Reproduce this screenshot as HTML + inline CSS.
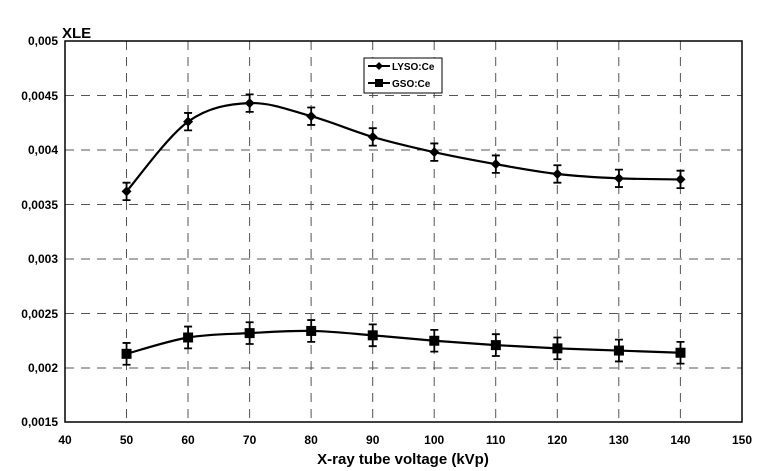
<!DOCTYPE html>
<html><head><meta charset="utf-8"><style>
html,body{margin:0;padding:0;background:#fff;}
svg{display:block;font-family:"Liberation Sans",Arial,sans-serif;font-weight:bold;}
</style></head><body>
<svg id="s" width="768" height="471" viewBox="0 0 768 471">
<g stroke="#555" stroke-width="1" stroke-dasharray="9,7" fill="none">
<line x1="65" y1="95.5" x2="742" y2="95.5"/>
<line x1="65" y1="150" x2="742" y2="150"/>
<line x1="65" y1="204.5" x2="742" y2="204.5"/>
<line x1="65" y1="259" x2="742" y2="259"/>
<line x1="65" y1="313.5" x2="742" y2="313.5"/>
<line x1="65" y1="368" x2="742" y2="368"/>
<line x1="126.5" y1="41" x2="126.5" y2="422"/>
<line x1="188" y1="41" x2="188" y2="422"/>
<line x1="249.6" y1="41" x2="249.6" y2="422"/>
<line x1="311.1" y1="41" x2="311.1" y2="422"/>
<line x1="372.7" y1="41" x2="372.7" y2="422"/>
<line x1="434.2" y1="41" x2="434.2" y2="422"/>
<line x1="495.7" y1="41" x2="495.7" y2="422"/>
<line x1="557.3" y1="41" x2="557.3" y2="422"/>
<line x1="618.8" y1="41" x2="618.8" y2="422"/>
<line x1="680.4" y1="41" x2="680.4" y2="422"/>
</g>
<rect x="65" y="41" width="677" height="381" fill="none" stroke="#000" stroke-width="1.5"/>
<g font-size="12" text-anchor="end" fill="#000">
<text x="58" y="45">0,005</text>
<text x="58" y="100">0,0045</text>
<text x="58" y="154">0,004</text>
<text x="58" y="209">0,0035</text>
<text x="58" y="263">0,003</text>
<text x="58" y="318">0,0025</text>
<text x="58" y="372">0,002</text>
<text x="58" y="426">0,0015</text>
</g>
<g font-size="12" text-anchor="middle" fill="#000">
<text x="65" y="444">40</text><text x="126.5" y="444">50</text><text x="188" y="444">60</text>
<text x="249.6" y="444">70</text><text x="311.1" y="444">80</text><text x="372.7" y="444">90</text>
<text x="434.2" y="444">100</text><text x="495.7" y="444">110</text><text x="557.3" y="444">120</text>
<text x="618.8" y="444">130</text><text x="680.4" y="444">140</text><text x="742" y="444">150</text>
</g>
<text x="403" y="464" font-size="15" text-anchor="middle">X-ray tube voltage (kVp)</text>
<text x="62" y="38" font-size="15">XLE</text>
<g id="data"></g>
<rect x="364" y="58" width="78" height="35" fill="#fff" stroke="#000" stroke-width="1"/>
<line x1="368" y1="66" x2="390" y2="66" stroke="#000" stroke-width="2"/>
<path d="M379 62 L383 66 L379 70 L375 66Z" fill="#000"/>
<text x="392" y="70" font-size="10">LYSO:Ce</text>
<line x1="368" y1="83" x2="390" y2="83" stroke="#000" stroke-width="2"/>
<rect x="375" y="79" width="8" height="8" fill="#000"/>
<text x="392" y="87" font-size="10">GSO:Ce</text>
</svg>
<script>
var X=v=>65+(v-40)*6.155, Y=v=>41+(0.005-v)/0.0005*54.5;
var xs=[50,60,70,80,90,100,110,120,130,140];
var L=[0.00362,0.00426,0.00443,0.00431,0.00412,0.00398,0.00387,0.00378,0.00374,0.00373];
var G=[0.00213,0.00228,0.00232,0.00234,0.00230,0.00225,0.00221,0.00218,0.00216,0.00214];
var g=document.getElementById('data'),h='';
function curve(vals){var p=xs.map((x,i)=>[X(x),Y(vals[i])]);var d='M'+p[0];
for(var i=0;i<p.length-1;i++){var a=p[i-1]||p[i],b=p[i],c=p[i+1],e=p[i+2]||c;
d+=' C'+(b[0]+(c[0]-a[0])/6)+','+(b[1]+(c[1]-a[1])/6)+' '+(c[0]-(e[0]-b[0])/6)+','+(c[1]-(e[1]-b[1])/6)+' '+c;}
return '<path d="'+d+'" fill="none" stroke="#000" stroke-width="2.2"/>';}
function bars(vals,err,sq){var s='';xs.forEach((x,i)=>{var cx=X(x),cy=Y(vals[i]),t=Y(vals[i]+err),b=Y(vals[i]-err);
s+='<path d="M'+cx+','+t+'V'+b+'M'+(cx-4)+','+t+'H'+(cx+4)+'M'+(cx-4)+','+b+'H'+(cx+4)+'" stroke="#000" stroke-width="1.8" fill="none"/>';
s+=sq?'<rect x="'+(cx-5)+'" y="'+(cy-5)+'" width="10" height="10"/>':'<path d="M'+cx+','+(cy-5)+'L'+(cx+5)+','+cy+'L'+cx+','+(cy+5)+'L'+(cx-5)+','+cy+'Z"/>';});return s;}
h+=curve(L)+bars(L,0.00008,false)+curve(G)+bars(G,0.0001,true);
g.innerHTML=h;
</script>
</body></html>
